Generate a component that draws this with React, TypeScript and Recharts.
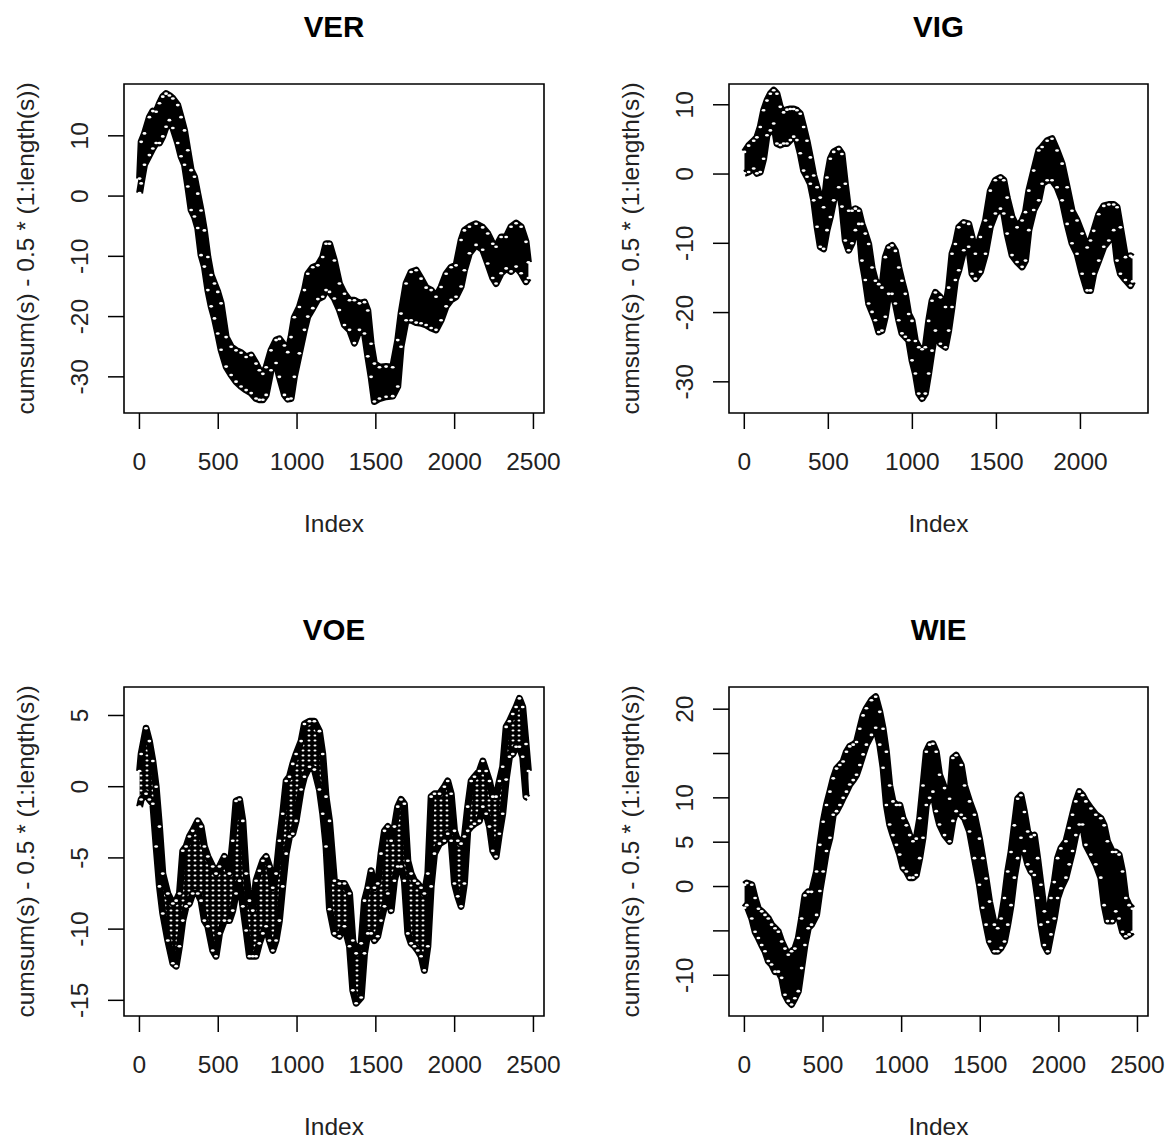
import React from 'react';
import { Area, ComposedChart, ReferenceArea, Scatter, XAxis, YAxis } from 'recharts';

const FONT = '"Liberation Sans", Arial, Helvetica, sans-serif';
const INK = '#222';

// envelope of the point cloud (upper / lower edge of the band)
const verIndex = [1, 11, 32, 63, 85, 106, 127, 148, 169, 190, 212, 243, 264, 286, 307, 328, 349, 370, 391, 412, 434, 455, 476, 497, 518, 550, 582, 613, 645, 677, 709, 740, 761, 783, 804, 835, 867, 888, 920, 941, 962, 983, 1015, 1047, 1068, 1100, 1132, 1163, 1184, 1206, 1237, 1269, 1301, 1333, 1364, 1396, 1428, 1449, 1470, 1491, 1523, 1565, 1607, 1639, 1660, 1692, 1724, 1756, 1787, 1819, 1851, 1882, 1914, 1946, 1978, 2009, 2041, 2062, 2094, 2136, 2178, 2210, 2242, 2263, 2295, 2327, 2358, 2390, 2422, 2453, 2468];
const verHigh = [2.9, 9.0, 10.4, 13.1, 14.1, 14.0, 15.4, 16.5, 17.0, 16.7, 16.2, 15.1, 13.1, 10.9, 7.6, 4.3, 3.2, 0.4, -2.4, -5.7, -10.1, -13.1, -14.5, -15.9, -17.8, -23.4, -25.0, -25.6, -26.0, -26.7, -26.4, -27.8, -28.9, -29.5, -28.4, -25.6, -23.9, -23.7, -24.8, -25.9, -23.4, -20.1, -18.4, -15.6, -12.9, -11.8, -11.5, -10.1, -7.9, -7.9, -10.7, -14.5, -16.2, -17.3, -17.3, -17.8, -17.6, -19.0, -24.5, -27.8, -28.4, -28.3, -28.4, -23.9, -19.5, -14.5, -12.6, -12.3, -13.7, -15.2, -15.6, -16.7, -15.1, -12.9, -11.8, -11.5, -7.3, -5.7, -5.1, -4.6, -5.2, -6.2, -7.9, -8.4, -6.8, -6.8, -5.1, -4.5, -5.1, -7.6, -11.0];
const verLow = [0.5, 2.1, 5.2, 6.8, 7.9, 8.8, 8.8, 9.9, 11.5, 12.6, 11.3, 8.8, 6.6, 5.2, 1.6, -2.3, -3.4, -5.3, -9.8, -11.7, -15.6, -18.3, -20.3, -22.8, -25.5, -28.3, -29.7, -30.8, -31.6, -32.2, -32.7, -33.6, -33.8, -33.8, -33.0, -28.9, -27.7, -30.0, -33.0, -33.7, -33.6, -30.0, -26.1, -22.2, -20.0, -18.6, -17.1, -16.7, -15.6, -15.9, -17.0, -18.9, -21.4, -22.2, -24.4, -22.2, -22.8, -26.6, -30.0, -34.1, -33.6, -33.3, -33.2, -31.6, -25.0, -20.6, -20.6, -21.0, -21.1, -21.4, -21.9, -22.2, -20.6, -18.3, -17.2, -16.7, -15.0, -12.3, -9.5, -8.1, -8.9, -11.2, -13.6, -14.5, -12.8, -12.0, -12.5, -11.7, -12.8, -14.2, -13.6];

const vigIndex = [1, 26, 56, 75, 95, 115, 135, 155, 175, 194, 214, 234, 254, 274, 294, 313, 333, 353, 373, 393, 413, 433, 452, 472, 492, 512, 532, 562, 581, 601, 621, 641, 661, 681, 700, 720, 740, 760, 780, 800, 819, 839, 859, 879, 899, 919, 938, 958, 978, 998, 1018, 1038, 1058, 1077, 1097, 1117, 1137, 1167, 1197, 1216, 1236, 1256, 1276, 1306, 1335, 1355, 1375, 1405, 1435, 1464, 1494, 1524, 1544, 1564, 1593, 1623, 1653, 1673, 1693, 1722, 1752, 1772, 1802, 1831, 1861, 1891, 1921, 1950, 1980, 2010, 2040, 2060, 2079, 2109, 2139, 2169, 2198, 2218, 2238, 2268, 2298, 2310];
const vigHigh = [3.2, 4.1, 4.8, 5.3, 6.8, 9.2, 10.6, 11.6, 12.1, 11.6, 9.7, 8.9, 9.3, 9.4, 9.4, 9.2, 8.7, 6.8, 4.8, 2.4, -0.2, -1.9, -3.4, -4.8, -0.5, 2.2, 3.2, 3.6, 2.9, -1.4, -5.3, -5.3, -5.0, -5.3, -7.2, -8.6, -10.1, -13.5, -15.4, -15.9, -16.4, -12.0, -10.6, -10.3, -11.1, -13.5, -15.4, -17.3, -20.2, -21.2, -24.1, -25.0, -25.3, -25.0, -21.2, -18.3, -17.1, -17.8, -19.2, -16.4, -11.5, -10.1, -7.7, -7.0, -7.2, -9.1, -11.5, -9.1, -6.7, -2.4, -0.9, -0.5, -0.9, -3.4, -6.2, -7.7, -6.7, -5.5, -2.4, 0.5, 3.4, 3.9, 4.8, 5.1, 3.4, 1.5, -1.9, -5.3, -6.7, -8.6, -10.6, -9.6, -8.2, -5.8, -4.6, -4.4, -4.4, -4.8, -7.7, -12.0, -11.8, -12.0];
const vigLow = [0.1, 0.3, 0.8, 0.1, 0.3, 2.2, 5.6, 6.3, 7.3, 4.4, 4.2, 4.4, 4.4, 4.9, 5.4, 4.9, 3.0, 0.5, -0.4, -1.4, -3.8, -7.6, -10.5, -10.8, -8.1, -6.2, -3.8, -1.9, -4.7, -9.6, -11.0, -10.0, -8.1, -7.2, -12.5, -15.3, -18.7, -19.9, -21.1, -22.8, -22.6, -20.6, -17.3, -17.3, -18.7, -21.1, -23.0, -23.5, -24.0, -26.9, -28.8, -31.7, -32.4, -31.7, -28.8, -25.5, -22.6, -24.5, -25.0, -22.6, -19.2, -15.3, -13.9, -11.0, -10.5, -14.4, -15.1, -14.1, -11.5, -7.6, -5.7, -5.0, -5.7, -8.6, -11.7, -12.7, -13.4, -12.5, -8.1, -5.2, -3.8, -1.4, -0.9, -0.9, -1.9, -3.8, -7.2, -10.0, -11.5, -14.4, -16.8, -16.8, -14.4, -12.5, -10.5, -9.6, -8.1, -12.5, -14.4, -15.3, -16.1, -15.5];

const voeIndex = [1, 11, 42, 63, 85, 106, 127, 148, 180, 212, 233, 254, 275, 296, 317, 338, 370, 391, 412, 434, 465, 486, 508, 539, 571, 592, 613, 635, 656, 677, 698, 719, 740, 761, 783, 804, 825, 846, 867, 888, 909, 931, 952, 973, 994, 1026, 1047, 1079, 1110, 1142, 1163, 1184, 1206, 1237, 1269, 1301, 1333, 1354, 1375, 1407, 1428, 1449, 1470, 1491, 1512, 1533, 1555, 1576, 1597, 1618, 1639, 1660, 1681, 1703, 1724, 1745, 1766, 1787, 1808, 1830, 1851, 1872, 1904, 1935, 1956, 1978, 1999, 2020, 2041, 2062, 2083, 2105, 2126, 2157, 2179, 2200, 2221, 2242, 2263, 2284, 2305, 2327, 2348, 2369, 2390, 2411, 2432, 2453, 2468];
const voeHigh = [1.1, 2.3, 4.1, 3.2, 1.8, 0.0, -2.8, -6.1, -7.5, -8.2, -8.0, -7.5, -4.5, -4.2, -3.5, -3.1, -2.4, -2.8, -4.2, -4.9, -5.6, -6.1, -5.6, -4.9, -6.1, -3.8, -1.0, -0.9, -2.4, -6.1, -8.0, -8.7, -6.6, -5.9, -5.2, -4.9, -5.6, -7.1, -6.1, -3.8, -1.9, 0.4, 0.7, 1.6, 2.3, 3.2, 4.4, 4.6, 4.6, 3.9, 2.3, -0.7, -2.4, -6.6, -6.8, -6.8, -7.5, -10.8, -11.7, -11.0, -8.0, -7.1, -5.9, -7.1, -6.8, -4.7, -3.1, -2.8, -3.8, -2.8, -1.4, -0.9, -1.2, -5.2, -6.1, -6.6, -6.8, -7.1, -7.5, -6.1, -0.7, -0.5, -0.5, 0.0, 0.4, -0.5, -3.1, -3.8, -4.0, -3.5, -1.4, 0.4, 0.7, 1.1, 1.8, 1.1, 0.4, -0.7, -0.7, 0.4, 1.4, 4.2, 4.6, 5.1, 5.6, 6.2, 5.6, 3.0, 1.1];
const voeLow = [-1.4, -0.9, -0.5, -0.9, -1.2, -4.2, -7.0, -8.9, -10.8, -12.4, -12.6, -11.2, -9.4, -8.4, -8.2, -7.5, -7.5, -8.0, -9.4, -9.8, -11.5, -11.9, -10.3, -9.4, -9.4, -8.7, -7.5, -6.6, -8.4, -10.1, -11.9, -11.9, -11.9, -11.0, -10.3, -9.8, -10.8, -11.5, -10.8, -9.4, -7.0, -4.7, -3.5, -3.3, -2.4, -0.2, 0.7, 1.4, 1.2, -0.2, -1.9, -4.2, -8.6, -10.3, -10.5, -9.8, -11.2, -14.3, -15.2, -14.8, -11.7, -10.3, -10.3, -10.8, -10.5, -9.4, -8.4, -7.5, -8.7, -6.6, -5.6, -5.6, -6.6, -10.3, -11.0, -11.2, -11.5, -11.9, -12.9, -11.2, -7.0, -4.7, -4.0, -3.8, -3.3, -3.8, -6.8, -7.7, -8.4, -6.8, -3.1, -2.8, -2.6, -2.4, -1.4, -1.9, -2.8, -4.5, -4.9, -3.3, -1.9, 0.5, 2.1, 2.3, 2.8, 2.8, 2.1, -0.7, -0.8];

const wieIndex = [1, 15, 47, 68, 89, 110, 131, 152, 173, 195, 216, 237, 258, 279, 300, 321, 343, 364, 385, 406, 427, 459, 480, 501, 522, 544, 565, 586, 607, 628, 649, 670, 692, 713, 734, 755, 776, 808, 835, 861, 882, 903, 924, 945, 967, 988, 1009, 1030, 1051, 1072, 1093, 1115, 1136, 1157, 1178, 1199, 1220, 1241, 1273, 1305, 1326, 1347, 1379, 1400, 1432, 1463, 1495, 1516, 1537, 1559, 1590, 1611, 1633, 1654, 1675, 1696, 1717, 1738, 1759, 1781, 1802, 1823, 1844, 1865, 1886, 1908, 1929, 1950, 1971, 1992, 2013, 2045, 2066, 2087, 2108, 2130, 2151, 2172, 2204, 2235, 2267, 2288, 2309, 2341, 2362, 2383, 2405, 2426, 2447, 2468];
const wieHigh = [0.2, 0.4, 0.2, -1.3, -2.5, -2.8, -3.2, -3.6, -4.3, -4.7, -5.1, -6.2, -7.0, -7.7, -7.3, -7.0, -5.8, -3.6, -1.0, -0.6, -0.6, 1.7, 4.7, 7.3, 9.2, 10.7, 12.2, 13.3, 13.7, 14.1, 15.2, 15.8, 16.0, 16.3, 17.8, 19.3, 20.1, 21.0, 21.4, 19.7, 17.8, 15.2, 11.4, 9.6, 9.2, 9.2, 7.7, 6.9, 5.8, 5.1, 5.4, 7.7, 11.4, 15.2, 16.0, 16.1, 15.2, 12.6, 11.1, 9.9, 14.5, 14.8, 13.7, 11.4, 9.6, 8.1, 5.4, 3.2, 0.9, -1.7, -4.3, -4.7, -3.6, -1.3, 1.7, 3.9, 6.9, 9.9, 10.3, 8.4, 6.2, 5.6, 5.8, 3.2, 0.2, -2.8, -4.0, -1.3, 0.5, 3.2, 4.3, 5.1, 6.6, 8.1, 9.6, 10.7, 10.3, 9.6, 8.8, 8.1, 7.7, 6.9, 5.1, 3.9, 3.9, 3.6, 1.7, -1.3, -2.1, -2.5];
const wieLow = [-2.4, -2.1, -3.6, -5.1, -5.8, -6.6, -7.3, -8.4, -8.8, -9.6, -9.6, -10.3, -12.2, -12.9, -13.3, -12.6, -11.8, -9.2, -6.6, -4.7, -4.3, -3.2, -0.5, 1.7, 4.0, 5.5, 8.1, 8.5, 9.2, 10.0, 10.7, 11.5, 12.0, 12.6, 13.7, 14.9, 16.0, 17.1, 17.9, 16.0, 13.4, 9.2, 7.0, 5.8, 4.7, 3.6, 2.1, 1.7, 1.0, 1.0, 1.3, 3.2, 5.5, 9.2, 10.0, 10.7, 8.5, 7.0, 5.8, 5.1, 7.4, 8.5, 8.1, 7.7, 6.2, 3.2, 0.2, -2.4, -4.3, -6.2, -7.3, -7.3, -6.9, -6.2, -4.3, -2.1, 1.0, 3.2, 5.5, 4.0, 2.5, 1.7, 1.3, -1.3, -4.3, -6.6, -7.3, -5.4, -3.6, -1.3, -0.2, 1.0, 2.5, 4.0, 5.8, 7.0, 7.0, 4.7, 3.6, 2.5, 1.0, -2.1, -3.9, -3.9, -2.8, -3.6, -5.1, -5.6, -5.4, -5.1];

const xTicksLong = [0, 500, 1000, 1500, 2000, 2500];
const xTicksShort = [0, 500, 1000, 1500, 2000];
const yTicksVer = [-30, -20, -10, 0, 10];
const yTicksVig = [-30, -20, -10, 0, 10];
const yTicksVoe = [-15, -10, -5, 0, 5];
const yTicksWie = [-10, -5, 0, 5, 10, 15, 20];
const yUnlabelledWie = [-5, 15];

const Y_LABEL = 'cumsum(s) - 0.5 * (1:length(s))';

interface PanelDef {
  id: string;
  title: string;
  index: number[];
  high: number[];
  low: number[];
  xTicks: number[];
  yTicks: number[];
  hidden?: number[];
  xDomain: [number, number];
  yDomain: [number, number];
  left: number;
  top: number;
  boxWidth: number;
  dotted?: boolean;
}

const panels: PanelDef[] = [
  { id: 'ver', title: 'VER', index: verIndex, high: verHigh, low: verLow, xTicks: xTicksLong, yTicks: yTicksVer, xDomain: [-98, 2567], yDomain: [-36, 18.6], left: 0, top: 0, boxWidth: 420 },
  { id: 'vig', title: 'VIG', index: vigIndex, high: vigHigh, low: vigLow, xTicks: xTicksShort, yTicks: yTicksVig, xDomain: [-91, 2402], yDomain: [-34.5, 13], left: 605, top: 0, boxWidth: 419 },
  { id: 'voe', title: 'VOE', index: voeIndex, high: voeHigh, low: voeLow, xTicks: xTicksLong, yTicks: yTicksVoe, xDomain: [-98, 2567], yDomain: [-16.1, 7.0], left: 0, top: 603, boxWidth: 420, dotted: true },
  { id: 'wie', title: 'WIE', index: wieIndex, high: wieHigh, low: wieLow, xTicks: xTicksLong, yTicks: yTicksWie, hidden: yUnlabelledWie, xDomain: [-98, 2567], yDomain: [-14.6, 22.5], left: 605, top: 603, boxWidth: 419 },
];

const CHART_H = 571;
const AXIS_W = 124;
const RIGHT_GAP = 42;

// the white centre of an open circle sitting on the edge of the band
const Hole = (props: any) => {
  const { cx, cy } = props;
  if (cx == null || cy == null) return null;
  return <ellipse cx={cx} cy={cy} rx={1.9} ry={1.3} fill="#fff" stroke="none" />;
};

const XTick = (props: any) => {
  const { x, y, payload } = props;
  return (
    <text x={x} y={y + 41} textAnchor="middle" fontFamily={FONT} fontSize={24.5} fill={INK}>
      {payload.value}
    </text>
  );
};

const makeYTick = (hidden: number[] = []) => (props: any) => {
  const { x, y, payload } = props;
  if (hidden.includes(payload.value)) return <g />;
  const bx = x - 20;
  return (
    <text
      x={bx}
      y={y}
      transform={`rotate(-90 ${bx} ${y})`}
      textAnchor="middle"
      fontFamily={FONT}
      fontSize={24.5}
      fill={INK}
    >
      {payload.value}
    </text>
  );
};

function PanelChart({ p }: { p: PanelDef }) {
  const data = p.index.map((i, k) => ({ i, hi: p.high[k], lo: p.low[k], band: [p.low[k], p.high[k]] }));
  const width = AXIS_W + p.boxWidth + RIGHT_GAP;
  const patternId = `dots-${p.id}`;
  return (
    <div style={{ position: 'absolute', left: p.left, top: p.top, width, height: CHART_H }}>
      <ComposedChart width={width} height={CHART_H} data={data} margin={{ top: 84, right: RIGHT_GAP, bottom: 98, left: 0 }}>
        <defs>
          <pattern id={patternId} width={6} height={5} patternUnits="userSpaceOnUse">
            <rect width={6} height={5} fill="#000" />
            <ellipse cx={3} cy={2.5} rx={1.5} ry={1.1} fill="#fff" />
          </pattern>
        </defs>
        <XAxis
          type="number"
          dataKey="i"
          domain={p.xDomain}
          ticks={p.xTicks}
          interval={0}
          height={60}
          axisLine={false}
          tickLine={{ stroke: '#000', strokeWidth: 1.5 }}
          tickSize={16}
          tickMargin={0}
          tick={<XTick />}
        />
        <YAxis
          type="number"
          domain={p.yDomain}
          ticks={p.yTicks}
          interval={0}
          width={AXIS_W}
          axisLine={false}
          tickLine={{ stroke: '#000', strokeWidth: 1.5 }}
          tickSize={16}
          tickMargin={0}
          tick={makeYTick(p.hidden)}
        />
        <Area
          type="linear"
          dataKey="band"
          fill={p.dotted ? `url(#${patternId})` : '#000'}
          fillOpacity={1}
          stroke="#000"
          strokeWidth={7}
          strokeLinejoin="round"
          dot={false}
          activeDot={false}
          isAnimationActive={false}
        />
        <Scatter dataKey="hi" shape={<Hole />} isAnimationActive={false} />
        <Scatter dataKey="lo" shape={<Hole />} isAnimationActive={false} />
        <ReferenceArea
          x1={p.xDomain[0]}
          x2={p.xDomain[1]}
          y1={p.yDomain[0]}
          y2={p.yDomain[1]}
          fill="none"
          stroke="#000"
          strokeWidth={1.6}
          ifOverflow="visible"
        />
      </ComposedChart>
    </div>
  );
}

export default function App() {
  return (
    <div style={{ position: 'absolute', left: 0, top: 0, width: 1173, height: 1142, background: '#fff', overflow: 'hidden' }}>
      {panels.map((p) => (
        <PanelChart key={p.id} p={p} />
      ))}
      <svg width={1173} height={1142} style={{ position: 'absolute', left: 0, top: 0, pointerEvents: 'none' }}>
        {panels.map((p) => {
          const boxLeft = p.left + AXIS_W;
          const cx = boxLeft + p.boxWidth / 2;
          const cy = p.top + 84 + 164.5;
          const lx = p.left + 34;
          return (
            <g key={p.id} fontFamily={FONT} fill={INK}>
              <text x={cx} y={p.top + 37} textAnchor="middle" fontSize={29.5} fontWeight="bold" fill="#000">
                {p.title}
              </text>
              <text x={cx} y={p.top + 532} textAnchor="middle" fontSize={24.5}>
                Index
              </text>
              <text x={lx} y={cy} transform={`rotate(-90 ${lx} ${cy})`} textAnchor="middle" fontSize={24.5}>
                {Y_LABEL}
              </text>
            </g>
          );
        })}
      </svg>
    </div>
  );
}
